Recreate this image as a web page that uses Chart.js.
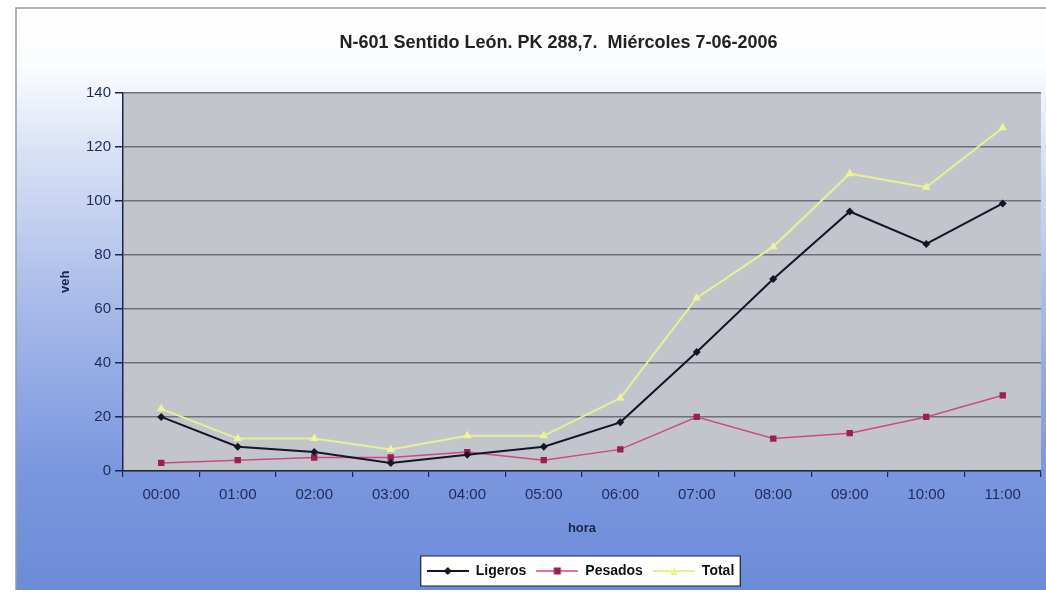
<!DOCTYPE html>
<html>
<head>
<meta charset="utf-8">
<script src="https://cdn.jsdelivr.net/npm/chart.js@4.4.1/dist/chart.umd.min.js"></script>
<style>
  html, body { margin: 0; padding: 0; background: #fff; }
  #wrap { width: 1046px; height: 595px; }
</style>
</head>
<body>
<div id="wrap"><canvas id="myCanvas" width="1046" height="595"></canvas></div>
<script>
'use strict';

const hours = ['00:00', '01:00', '02:00', '03:00', '04:00', '05:00', '06:00', '07:00', '08:00', '09:00', '10:00', '11:00'];
const ligeros = [20, 9, 7, 3, 6, 9, 18, 44, 71, 96, 84, 99];
const pesados = [3, 4, 5, 5, 7, 4, 8, 20, 12, 14, 20, 28];
const total = [23, 12, 12, 8, 13, 13, 27, 64, 83, 110, 105, 127];
const yMin = 0;
const yMax = 140;
const yStep = 20;

const titleText = 'N-601 Sentido León. PK 288,7.  Miércoles 7-06-2006';
const fontName = '"Liberation Sans", Arial, sans-serif';
const navy = '#1f2b5a';

// small canvas used as legend symbol: line with the marker in the middle
function legendSymbol(lineColor, lineWidth, markerColor, shape) {
  const c = document.createElement('canvas');
  c.width = 42;
  c.height = 12;
  const g = c.getContext('2d');
  g.strokeStyle = lineColor;
  g.lineWidth = lineWidth;
  g.beginPath();
  g.moveTo(0, 6);
  g.lineTo(42, 6);
  g.stroke();
  g.fillStyle = markerColor;
  g.beginPath();
  if (shape === 'diamond') {
    g.moveTo(21, 2); g.lineTo(25, 6); g.lineTo(21, 10); g.lineTo(17, 6);
  } else if (shape === 'square') {
    g.rect(17.5, 2.5, 7, 7);
  } else {
    g.moveTo(21, 2); g.lineTo(25, 10); g.lineTo(17, 10);
  }
  g.closePath();
  g.fill();
  return c;
}

const symbols = [
  legendSymbol('#15152a', 2, '#15152a', 'diamond'),
  legendSymbol('#cf4a80', 1.5, '#9a1f55', 'square'),
  legendSymbol('#e9ef95', 2, '#eef39c', 'triangle')
];

const backgroundPlugin = {
  id: 'backgroundPlugin',
  afterLayout(chart) {
    // the original title and legend sit a bit right of the canvas centre
    chart.titleBlock.left += 37;
    chart.titleBlock.right += 37;
    chart.legend.left += 59;
    chart.legend.right += 59;
  },
  beforeDraw(chart) {
    const ctx = chart.ctx;
    const area = chart.chartArea;
    ctx.save();
    ctx.fillStyle = '#ffffff';
    ctx.fillRect(0, 0, chart.width, chart.height);

    const grad = ctx.createLinearGradient(0, 8, 0, 590);
    grad.addColorStop(0, '#ffffff');
    grad.addColorStop(0.1, '#fbfcfe');
    grad.addColorStop(0.25, '#d8e1f4');
    grad.addColorStop(0.5, '#a9bbe9');
    grad.addColorStop(0.8, '#7a96de');
    grad.addColorStop(1, '#6c8bd8');
    ctx.fillStyle = grad;
    ctx.fillRect(16, 8, chart.width - 16, 582);

    ctx.strokeStyle = '#9a9a9a';
    ctx.lineWidth = 1.5;
    ctx.beginPath();
    ctx.moveTo(16, 590);
    ctx.lineTo(16, 8);
    ctx.lineTo(chart.width, 8);
    ctx.stroke();

    ctx.fillStyle = '#c2c5cc';
    ctx.fillRect(area.left, area.top, area.right - area.left, area.bottom - area.top);
    ctx.restore();
  }
};

const legendBoxPlugin = {
  id: 'legendBoxPlugin',
  afterDraw(chart) {
    const boxes = chart.legend.legendHitBoxes;
    if (!boxes || !boxes.length) return;
    let left = Infinity, right = -Infinity, top = Infinity, bottom = -Infinity;
    boxes.forEach(function (b) {
      left = Math.min(left, b.left);
      right = Math.max(right, b.left + b.width);
      top = Math.min(top, b.top);
      bottom = Math.max(bottom, b.top + b.height);
    });
    const ctx = chart.ctx;
    ctx.save();
    ctx.fillStyle = '#ffffff';
    ctx.strokeStyle = '#222';
    ctx.lineWidth = 1.2;
    ctx.beginPath();
    ctx.rect(left - 6, top - 8, right - left + 12, bottom - top + 16);
    ctx.fill();
    ctx.stroke();
    ctx.restore();
    // redraw legend on top of the white box
    chart.legend.draw();
  }
};

const data = {
  labels: hours,
  datasets: [
    {
      label: 'Ligeros',
      data: ligeros,
      borderColor: '#15152a',
      backgroundColor: '#15152a',
      borderWidth: 2,
      pointStyle: 'rectRot',
      pointRadius: 4,
      pointBorderWidth: 0
    },
    {
      label: 'Pesados',
      data: pesados,
      borderColor: '#cf4a80',
      backgroundColor: '#9a1f55',
      borderWidth: 1.5,
      pointStyle: 'rect',
      pointRadius: 4.5,
      pointBorderWidth: 0
    },
    {
      label: 'Total',
      data: total,
      borderColor: '#e9ef95',
      backgroundColor: '#eef39c',
      borderWidth: 2,
      pointStyle: 'triangle',
      pointRadius: 5,
      pointBorderWidth: 0
    }
  ]
};

const config = {
  type: 'line',
  data: data,
  options: {
    responsive: false,
    animation: false,
    events: [],
    layout: {
      padding: { top: 8, left: 0, right: 3, bottom: 7 }
    },
    plugins: {
      title: {
        display: true,
        text: titleText,
        color: '#222',
        font: { family: fontName, size: 18, weight: 'bold' },
        padding: { top: 24, bottom: 39 }
      },
      legend: {
        position: 'bottom',
        labels: {
          usePointStyle: true,
          pointStyleWidth: 42,
          padding: 10,
          color: '#111',
          font: { family: fontName, size: 14, weight: 'bold' },
          generateLabels: function (chart) {
            return chart.data.datasets.map(function (ds, i) {
              return {
                text: ds.label,
                pointStyle: symbols[i],
                fillStyle: 'transparent',
                strokeStyle: 'transparent',
                lineWidth: 0,
                fontColor: '#111',
                hidden: false,
                datasetIndex: i
              };
            });
          }
        }
      },
      tooltip: { enabled: false }
    },
    scales: {
      x: {
        type: 'category',
        offset: true,
        afterFit: function (scale) { scale.height = 83; },
        border: { color: '#1e2650', width: 1.5 },
        grid: {
          offset: true,
          drawOnChartArea: false,
          drawTicks: true,
          tickLength: 6,
          tickColor: '#1e2650',
          lineWidth: 1.2
        },
        ticks: {
          color: navy,
          padding: 9,
          maxRotation: 0,
          font: { family: fontName, size: 15 }
        },
        title: {
          display: true,
          text: 'hora',
          color: '#1a2450',
          font: { family: fontName, size: 13, weight: 'bold' },
          padding: { top: 0, bottom: 18 }
        }
      },
      y: {
        min: yMin,
        max: yMax,
        afterFit: function (scale) { scale.width = 123; },
        border: { color: '#1e2650', width: 1.5 },
        grid: {
          color: '#6d717a',
          lineWidth: 1.5,
          drawTicks: true,
          tickLength: 8,
          tickColor: '#1e2650'
        },
        ticks: {
          stepSize: yStep,
          color: navy,
          padding: 4,
          font: { family: fontName, size: 15 }
        },
        title: {
          display: true,
          text: 'veh',
          color: '#1a2450',
          font: { family: fontName, size: 13, weight: 'bold' },
          padding: { top: 58, bottom: 0 }
        }
      }
    }
  },
  plugins: [backgroundPlugin, legendBoxPlugin]
};

const chartCanvas = document.getElementById('myCanvas');
const myChart = new Chart(chartCanvas, config);
</script>
</body>
</html>
